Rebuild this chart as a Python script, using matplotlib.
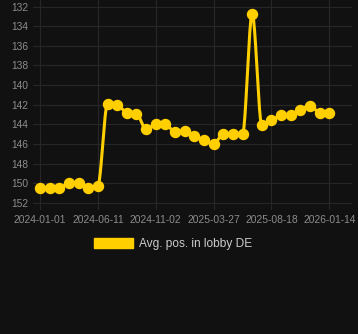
import numpy as np, matplotlib; matplotlib.use("Agg"); import matplotlib.pyplot as plt
from matplotlib.patches import Patch

plt.rcParams.update({"font.family": ["Liberation Sans", "DejaVu Sans"]})

# data (31 points, category axis, labels every 6th)
avg_pos = [150.5, 150.5, 150.5, 150.0, 150.0, 150.5, 150.3, 141.9, 142.0, 142.8,
           142.9, 144.5, 144.0, 144.0, 144.8, 144.7, 145.2, 145.6, 146.0, 145.0,
           145.0, 145.0, 132.7, 144.1, 143.6, 143.1, 143.1, 142.5, 142.1, 142.8, 142.8]
tick_labels = ["2024-01-01", "2024-06-11", "2024-11-02", "2025-03-27", "2025-08-18", "2026-01-14"]
tick_idx = [0, 6, 12, 18, 24, 30]
y_ticks = list(range(132, 153, 2))
series_name = "Avg. pos. in lobby DE"

BG = "#111111"; GRID = "#272727"; TXT = "#8c8c8c"; GOLD = "#ffcf00"

def monotone(x, y, n=20):
    # Fritsch-Carlson monotone cubic, only used for drawing the curve
    x = np.asarray(x, float); y = np.asarray(y, float)
    d = np.diff(y) / np.diff(x)
    m = np.zeros_like(y); m[0] = d[0]; m[-1] = d[-1]
    for i in range(1, len(y) - 1):
        m[i] = 0 if d[i-1] * d[i] <= 0 else (d[i-1] + d[i]) / 2
    for i in range(len(d)):
        if d[i] == 0:
            m[i] = m[i+1] = 0
        else:
            a, b = m[i] / d[i], m[i+1] / d[i]
            s = a*a + b*b
            if s > 9:
                t = 3 / np.sqrt(s); m[i] = t*a*d[i]; m[i+1] = t*b*d[i]
    xs, ys = [], []
    for i in range(len(d)):
        h = x[i+1] - x[i]; t = np.linspace(0, 1, n, endpoint=False)
        h00 = 2*t**3 - 3*t**2 + 1; h10 = t**3 - 2*t**2 + t
        h01 = -2*t**3 + 3*t**2; h11 = t**3 - t**2
        xs.append(x[i] + t*h)
        ys.append(h00*y[i] + h10*h*m[i] + h01*y[i+1] + h11*h*m[i+1])
    xs.append([x[-1]]); ys.append([y[-1]])
    return np.concatenate(xs), np.concatenate(ys)

fig = plt.figure(figsize=(3.58, 3.34), dpi=100, facecolor=BG)
ax = fig.add_axes([33/358, 124/334, 319/358, 210/334], facecolor=BG)
x = np.arange(len(avg_pos))
sx, sy = monotone(x, avg_pos)
ax.plot(sx, sy, color=GOLD, lw=2.2, zorder=3)
ax.plot(x, avg_pos, "o", color=GOLD, ms=7.2, mec=GOLD, zorder=4)

ax.set_xlim(-0.73, 32.35)
ax.set_ylim(152.74, 131.32)
ax.set_yticks(y_ticks)
ax.set_xticks(tick_idx); ax.set_xticklabels(tick_labels)
ax.grid(True, color=GRID, lw=0.8)
ax.set_axisbelow(True)
ax.tick_params(length=0, colors=TXT, labelsize=7.4, pad=3.5)
for s in ax.spines.values():
    s.set_visible(False)

fig.legend(handles=[Patch(color=GOLD, label=series_name)], loc="center",
           bbox_to_anchor=(173/358, 1 - 244/334), frameon=False, fontsize=8.6,
           labelcolor="#cccccc", handlelength=3.3, handleheight=1.0, handletextpad=0.45)

fig.savefig("out.png", dpi=100, facecolor=BG)
